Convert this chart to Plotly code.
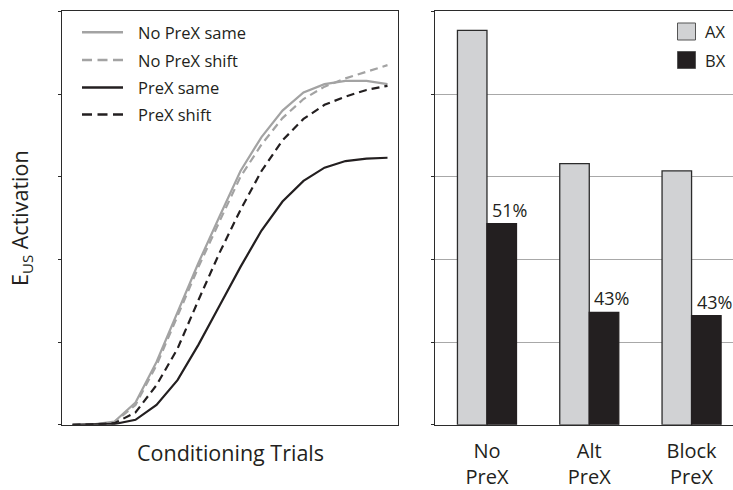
import plotly.graph_objects as go

# ---- data ---------------------------------------------------------------
trials = list(range(1, 17))
no_prex_same = [0, 0.005, 0.04, 0.27, 0.76, 1.37, 1.96, 2.52, 3.07, 3.48, 3.80, 4.02, 4.12, 4.16, 4.16, 4.12]
no_prex_shift = [0, 0.005, 0.03, 0.24, 0.72, 1.32, 1.91, 2.46, 3.00, 3.39, 3.71, 3.94, 4.09, 4.19, 4.27, 4.35]
prex_same = [0, 0.003, 0.01, 0.06, 0.24, 0.54, 0.97, 1.44, 1.91, 2.35, 2.70, 2.95, 3.11, 3.19, 3.22, 3.23]
prex_shift = [0, 0.004, 0.02, 0.15, 0.48, 0.92, 1.51, 2.08, 2.60, 3.07, 3.44, 3.70, 3.87, 3.97, 4.05, 4.10]

groups = ["No<br>PreX", "Alt<br>PreX", "Block<br>PreX"]
ax_values = [4.77, 3.16, 3.07]
bx_ratio = [0.51, 0.43, 0.43]          # BX response as a fraction of AX
bx_values = [a * r for a, r in zip(ax_values, bx_ratio)]

line_series = ["No PreX same", "No PreX shift", "PreX same", "PreX shift"]

# ---- styling ------------------------------------------------------------
W, H = 733, 490
FONT = "Open Sans"
INK = "#231f20"
GREY = "#a3a3a3"
LIGHT = "#d1d2d4"


def px(x):
    return x / W


def py(y):
    return (H - y) / H


styles = {
    "No PreX same": dict(color=GREY, width=2.2, dash="solid"),
    "No PreX shift": dict(color=GREY, width=2.2, dash="8px,5px"),
    "PreX same": dict(color=INK, width=2.2, dash="solid"),
    "PreX shift": dict(color=INK, width=2.2, dash="8px,5px"),
}
curves = {
    "No PreX same": no_prex_same,
    "No PreX shift": no_prex_shift,
    "PreX same": prex_same,
    "PreX shift": prex_shift,
}

fig = go.Figure()

# learning curves (left panel)
for name in ["No PreX shift", "No PreX same", "PreX shift", "PreX same"]:
    fig.add_trace(go.Scatter(
        x=trials, y=curves[name], mode="lines", name=name,
        line=styles[name], xaxis="x", yaxis="y", showlegend=False,
    ))

# test responding (right panel)
fig.add_trace(go.Bar(
    x=list(range(len(groups))), y=ax_values, name="AX", offsetgroup="ax",
    marker=dict(color=LIGHT, line=dict(color="#2b2b2b", width=1.3)),
    xaxis="x2", yaxis="y2", showlegend=False,
))
fig.add_trace(go.Bar(
    x=list(range(len(groups))), y=bx_values, name="BX", offsetgroup="bx",
    marker=dict(color=INK, line=dict(color=INK, width=1.3)),
    xaxis="x2", yaxis="y2", showlegend=False,
))

annotations = []
shapes = []

# percentage labels above the BX bars
for i, (b, r) in enumerate(zip(bx_values, bx_ratio)):
    annotations.append(dict(
        x=i, y=b, xref="x2", yref="y2", text=f"{round(r * 100)}%",
        showarrow=False, xanchor="left", yanchor="bottom", xshift=3, yshift=0,
        font=dict(family=FONT, size=18, color=INK),
    ))

# legend for the curves
row_y = [32.3, 60.0, 87.5, 114.5]
for name, yy in zip(line_series, row_y):
    st = styles[name]
    shapes.append(dict(
        type="line", xref="paper", yref="paper",
        x0=px(82), x1=px(123), y0=py(yy), y1=py(yy),
        line=dict(color=st["color"], width=2.4,
                  dash="solid" if st["dash"] == "solid" else "10px,5.5px"),
    ))
    annotations.append(dict(
        x=px(136), y=py(yy), xref="paper", yref="paper", text=name,
        showarrow=False, xanchor="left", yanchor="middle",
        font=dict(family=FONT, size=16.5, color=INK),
    ))

# legend for the bars
for label, fill, y0, y1 in [("AX", LIGHT, 23, 40), ("BX", INK, 51.5, 68.5)]:
    shapes.append(dict(
        type="rect", xref="paper", yref="paper",
        x0=px(677.5), x1=px(695.5), y0=py(y1), y1=py(y0),
        fillcolor=fill, line=dict(color="#555555", width=1),
    ))
    annotations.append(dict(
        x=px(703), y=py((y0 + y1) / 2), xref="paper", yref="paper", text=label,
        showarrow=False, xanchor="left", yanchor="middle",
        font=dict(family=FONT, size=16.5, color=INK),
    ))

# axis titles
annotations.append(dict(
    x=px(21), y=py(218), xref="paper", yref="paper",
    text="E<sub>US</sub> Activation", textangle=-90, showarrow=False,
    xanchor="center", yanchor="middle",
    font=dict(family=FONT, size=21.5, color=INK),
))
annotations.append(dict(
    x=px(231), y=py(452), xref="paper", yref="paper",
    text="Conditioning Trials", showarrow=False,
    xanchor="center", yanchor="middle",
    font=dict(family=FONT, size=21.5, color=INK),
))

y_dom = [py(424.8), py(11.4)]
axis_common = dict(showgrid=False, zeroline=False, fixedrange=True,
                   automargin=False)

fig.update_layout(
    width=W, height=H, autosize=False,
    margin=dict(l=0, r=0, t=0, b=0, pad=0),
    paper_bgcolor="white", plot_bgcolor="white",
    barmode="group", bargap=0.423, bargroupgap=0,
    font=dict(family=FONT, color=INK),
    xaxis=dict(
        domain=[px(62), px(398)], range=[0.5, 16.5], anchor="y",
        showticklabels=False, ticks="", showline=True, mirror=True,
        linecolor="#2b2b2b", linewidth=1.3, **axis_common,
    ),
    yaxis=dict(
        domain=y_dom, range=[0, 5], anchor="x",
        tickvals=[0, 1, 2, 3, 4, 5], ticks="outside", ticklen=3,
        tickcolor="#2b2b2b", tickwidth=1.2, showticklabels=False,
        showline=True, mirror=True, linecolor="#2b2b2b", linewidth=1.3,
        **axis_common,
    ),
    xaxis2=dict(
        domain=[px(435), 1.0], range=[-0.508, 2.405], anchor="y2",
        tickvals=list(range(len(groups))), ticktext=groups, ticks="",
        tickfont=dict(family=FONT, size=20, color=INK),
        showline=True, mirror=True, linecolor="#2b2b2b", linewidth=1.3,
        ticklabelstandoff=8,
        **axis_common,
    ),
    yaxis2=dict(
        domain=y_dom, range=[0, 5], anchor="x2",
        tickvals=[0, 1, 2, 3, 4, 5], ticks="outside", ticklen=3,
        tickcolor="#2b2b2b", tickwidth=1.2, showticklabels=False,
        showline=True, linecolor="#2b2b2b", linewidth=1.3,
        showgrid=True, gridcolor="#a8a8a8", gridwidth=1.4,
        zeroline=False, fixedrange=True, automargin=False,
    ),
    annotations=annotations,
    shapes=shapes,
)

fig.write_html("out.html")
